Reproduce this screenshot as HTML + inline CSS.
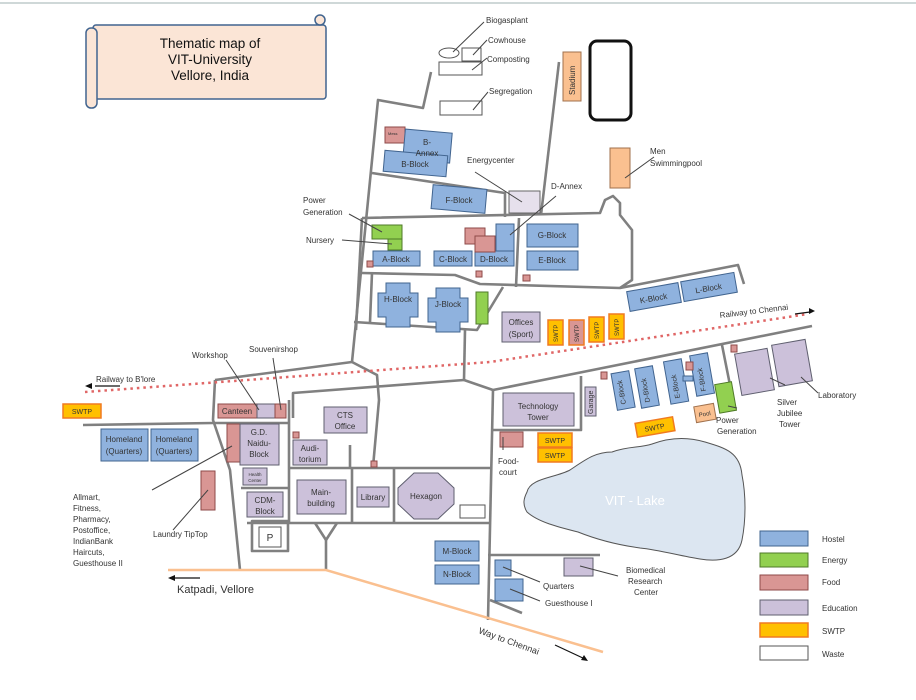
<!DOCTYPE html>
<html><head><meta charset="utf-8"><style>
body{margin:0;background:#fff;width:916px;height:700px;overflow:hidden}
svg{display:block;font-family:"Liberation Sans",sans-serif}
text{fill:#333;font-size:8px}
.r{fill:none;stroke:#808080;stroke-width:2.6;stroke-linejoin:round}
.h{fill:#8fb2de;stroke:#41648f;stroke-width:1}
.e{fill:#92d050;stroke:#4f7a28;stroke-width:1}
.f{fill:#d99694;stroke:#8e4a48;stroke-width:1}
.d{fill:#ccc1da;stroke:#5f5f6f;stroke-width:1}
.s{fill:#ffc000;stroke:#f07a20;stroke-width:1.5}
.w{fill:#fff;stroke:#555;stroke-width:1}
.l{stroke:#444;stroke-width:1;fill:none}
</style></head><body>
<svg width="916" height="700" viewBox="0 0 916 700">
<line x1="0" y1="3" x2="916" y2="3" stroke="#cfd8d8" stroke-width="2"/>
<g>
<rect x="93" y="25" width="233" height="74" rx="3" fill="#fbe5d6" stroke="#41648f" stroke-width="1.5"/>
<rect x="86" y="28" width="11" height="80" rx="5" fill="#fbe5d6" stroke="#41648f" stroke-width="1.5"/>
<circle cx="320" cy="20" r="5" fill="#fbe5d6" stroke="#41648f" stroke-width="1.5"/>
<text x="210" y="48" text-anchor="middle" style="font-size:13.5px;fill:#111">Thematic map of</text>
<text x="210" y="64" text-anchor="middle" style="font-size:13.5px;fill:#111">VIT-University</text>
<text x="210" y="80" text-anchor="middle" style="font-size:13.5px;fill:#111">Vellore, India</text>
</g>
<g>
<polyline class="r" points="431,72 423,108 378,100 352,362"/>
<polyline class="r" points="559,62 541,215"/>
<polyline class="r" points="372,173 505,193 505,217"/>
<polyline class="r" points="362,218 600,213 605,200 613,196 620,203 620,215 632,230 632,280 620,288"/>
<polyline class="r" points="519,218 516,287"/>
<polyline class="r" points="362,218 356,330"/>
<polyline class="r" points="372,273 370,322"/>
<polyline class="r" points="362,273 455,275 480,284 620,288 738,265 744,284"/>
<polyline class="r" points="354,322 477,330 503,287"/>
<polyline class="r" points="465,330 464,380"/>
<polyline class="r" points="215,380 352,362 377,375 379,400 373,467"/>
<polyline class="r" points="215,380 213,420 230,470 240,570"/>
<polyline class="r" points="293,418 293,393 464,380 493,390 812,326"/>
<polyline class="r" points="493,390 488,620"/>
<polyline class="r" points="581,376 581,430 492,430"/>
<polyline class="r" points="290,468 490,468"/>
<polyline class="r" points="247,523 490,523"/>
<polyline class="r" points="289,400 289,523"/>
<polyline class="r" points="352,468 352,523"/>
<polyline class="r" points="394,468 394,523"/>
<polyline class="r" points="350,445 350,468"/>
<polyline class="r" points="213,423 290,423"/>
<polyline class="r" points="241,488 288,488"/>
<polyline class="r" points="83,425 213,423"/>
<rect class="r" x="252" y="521" width="36" height="30"/>
<polyline class="r" points="315,523 326,540 337,523"/>
<polyline class="r" points="326,540 326,570"/>
<polyline class="r" points="488,555 600,555"/>
<polyline class="r" points="490,600 522,613"/>
<polyline class="r" points="722,345 735,410"/>
<polyline points="168,570 326,570 603,652" fill="none" stroke="#fac090" stroke-width="2.5"/>
</g>
<polyline points="85,392 490,362 808,314" fill="none" stroke="#e06666" stroke-width="2.5" stroke-dasharray="2.5,4"/>
<g>
<ellipse class="w" cx="449" cy="53" rx="10" ry="5"/>
<rect class="w" x="462" y="48" width="19" height="13"/>
<rect class="w" x="439" y="62" width="43" height="13"/>
<rect class="w" x="440" y="101" width="42" height="14"/>
<rect class="w" x="460" y="505" width="25" height="13"/>
<rect class="w" x="259" y="527" width="22" height="20"/>
<text x="270" y="541" text-anchor="middle" style="font-size:10px">P</text>
</g>
<rect x="563" y="52" width="18" height="49" fill="#fac090" stroke="#a0714d"/>
<text transform="translate(575,95) rotate(-90)">Stadium</text>
<rect x="590" y="41" width="41" height="79" rx="7" fill="#fff" stroke="#111" stroke-width="3"/>
<rect x="610" y="148" width="20" height="40" fill="#fac090" stroke="#a0714d"/>
<rect x="509" y="191" width="31" height="22" fill="#e6e0ec" stroke="#666"/>
<g>
<rect class="f" x="385" y="127" width="20" height="16"/>
<rect class="h" x="404" y="131" width="47" height="30" transform="rotate(5 427 146)"/>
<rect class="h" x="384" y="153" width="63" height="21" transform="rotate(5 415 163)"/>
<rect class="h" x="432" y="187" width="54" height="24" transform="rotate(5 459 199)"/>
<rect class="e" x="372" y="225" width="30" height="14"/>
<rect class="e" x="388" y="239" width="14" height="11"/>
<rect class="h" x="373" y="251" width="47" height="15"/>
<rect class="f" x="367" y="261" width="6" height="6"/>
<rect class="h" x="434" y="251" width="38" height="15"/>
<rect class="h" x="475" y="251" width="39" height="15"/>
<rect class="h" x="496" y="224" width="18" height="27"/>
<rect class="f" x="465" y="228" width="20" height="16"/>
<rect class="f" x="475" y="236" width="20" height="16"/>
<rect class="h" x="527" y="224" width="51" height="23"/>
<rect class="h" x="527" y="251" width="51" height="19"/>
<rect class="f" x="523" y="275" width="7" height="6"/>
<rect class="f" x="476" y="271" width="6" height="6"/>
<path class="h" d="M386,283h24v10h8v24h-8v10h-24v-10h-8v-24h8z"/>
<path class="h" d="M436,288h24v10h8v24h-8v10h-24v-10h-8v-24h8z"/>
<rect class="e" x="476" y="292" width="12" height="32"/>
<rect class="d" x="502" y="312" width="38" height="30"/>
<rect class="s" x="548" y="320" width="15" height="25"/>
<rect class="f" x="569" y="320" width="15" height="25" style="stroke:#f07a20;stroke-width:1.5"/>
<rect class="s" x="589" y="317" width="15" height="25"/>
<rect class="s" x="609" y="314" width="15" height="25"/>
<rect class="h" x="628" y="287" width="52" height="20" transform="rotate(-10 654 297)"/>
<rect class="h" x="682" y="277" width="54" height="20" transform="rotate(-10 709 287)"/>
<rect class="s" x="63" y="404" width="38" height="14"/>
<rect class="h" x="101" y="429" width="47" height="32"/>
<rect class="h" x="151" y="429" width="47" height="32"/>
<rect class="f" x="218" y="404" width="39" height="14"/>
<rect class="d" x="257" y="404" width="18" height="14"/>
<rect class="f" x="275" y="404" width="11" height="14"/>
<rect class="f" x="227" y="424" width="13" height="38"/>
<rect class="d" x="240" y="424" width="39" height="41"/>
<rect class="d" x="243" y="468" width="24" height="17"/>
<rect class="f" x="201" y="471" width="14" height="39"/>
<rect class="d" x="247" y="492" width="36" height="25"/>
<rect class="d" x="293" y="440" width="34" height="25"/>
<rect class="f" x="293" y="432" width="6" height="6"/>
<rect class="d" x="324" y="407" width="43" height="26"/>
<rect class="d" x="297" y="480" width="49" height="34"/>
<rect class="d" x="357" y="487" width="32" height="20"/>
<polygon class="d" points="414,473 438,473 454,488 454,504 438,519 414,519 398,504 398,488"/>
<rect class="f" x="371" y="461" width="6" height="6"/>
<rect class="h" x="435" y="541" width="44" height="20"/>
<rect class="h" x="435" y="565" width="44" height="19"/>
<rect class="h" x="495" y="560" width="16" height="16"/>
<rect class="h" x="495" y="579" width="28" height="22"/>
<rect class="d" x="564" y="558" width="29" height="18"/>
<rect class="f" x="500" y="432" width="23" height="15"/>
<rect class="d" x="503" y="393" width="71" height="33"/>
<rect class="d" x="585" y="387" width="11" height="29"/>
<rect class="s" x="538" y="433" width="34" height="14"/>
<rect class="s" x="538" y="448" width="34" height="14"/>
<rect class="s" x="636" y="420" width="38" height="14" transform="rotate(-10 655 427)"/>
<rect class="f" x="601" y="372" width="6" height="7"/>
<rect class="h" x="614" y="372" width="18" height="37" transform="rotate(-10 623 390)"/>
<rect class="h" x="638" y="367" width="18" height="40" transform="rotate(-10 647 387)"/>
<rect class="h" x="667" y="360" width="18" height="43" transform="rotate(-10 676 381)"/>
<rect class="h" x="693" y="354" width="18" height="41" transform="rotate(-10 702 374)"/>
<rect class="h" x="683" y="376" width="10" height="5"/>
<rect class="f" x="686" y="362" width="7" height="8"/>
<rect x="695" y="405" width="20" height="16" fill="#fac090" stroke="#a0714d" transform="rotate(-10 705 413)"/>
<rect class="e" x="717" y="383" width="17" height="29" transform="rotate(-10 725 397)"/>
<rect class="f" x="731" y="345" width="6" height="7"/>
<rect class="d" x="738" y="351" width="33" height="42" transform="rotate(-10 754 372)"/>
<rect class="d" x="775" y="342" width="34" height="42" transform="rotate(-10 792 363)"/>
</g>
<path d="M527,492 C530,478 555,478 570,470 C585,460 595,452 612,452 C628,446 640,448 652,444 C668,438 685,436 705,442 C725,448 740,452 742,475 C746,495 746,520 742,540 C738,560 718,562 700,559 C680,556 660,550 640,548 C618,545 598,540 578,532 C558,527 538,522 527,512 C522,504 524,498 527,492 Z" fill="#dce6f1" stroke="#555" stroke-width="1"/>
<text x="635" y="505" text-anchor="middle" style="font-size:13px;fill:#fff">VIT - Lake</text>
<g>
<path class="l" d="M484,22 L453,52 M487,40 L473,55 M487,58 L472,70 M488,92 L473,110 M654,157 L625,178 M475,172 L522,202 M556,196 L510,235 M349,214 L382,232 M342,240 L392,244 M226,360 L259,410 M273,358 L281,410 M152,490 L232,446 M173,530 L208,490 M503,450 L503,437 M540,582 L503,567 M540,601 L510,589 M618,576 L580,566 M737,408 L728,406 M785,385 L770,378 M818,393 L801,377"/>
<path d="M95,386 H120 M170,578 H200 M810,312 L795,314 M555,645 L585,659" stroke="#111" stroke-width="1.2" fill="none"/>
<path d="M85,386 l7,-3 v6 z M168,578 l7,-3 v6 z M815,311 l-6,-3 v6 z M588,661 l-7,-1 l3,-5 z" fill="#111"/>
</g>
<g>
<text x="486" y="23">Biogasplant</text>
<text x="488" y="43">Cowhouse</text>
<text x="487" y="62">Composting</text>
<text x="489" y="94">Segregation</text>
<text x="467" y="163">Energycenter</text>
<text x="551" y="189">D-Annex</text>
<text x="650" y="154">Men</text>
<text x="650" y="166">Swimmingpool</text>
<text x="303" y="203">Power</text>
<text x="303" y="215">Generation</text>
<text x="306" y="243">Nursery</text>
<text x="192" y="358">Workshop</text>
<text x="249" y="352">Souvenirshop</text>
<text x="96" y="382">Railway to B'lore</text>
<text transform="translate(720,318) rotate(-7)">Railway to Chennai</text>
<text x="73" y="500">Allmart,</text>
<text x="73" y="511">Fitness,</text>
<text x="73" y="522">Pharmacy,</text>
<text x="73" y="533">Postoffice,</text>
<text x="73" y="544">IndianBank</text>
<text x="73" y="555">Haircuts,</text>
<text x="73" y="566">Guesthouse II</text>
<text x="153" y="537">Laundry TipTop</text>
<text x="177" y="593" style="font-size:11px">Katpadi, Vellore</text>
<text transform="translate(478,633) rotate(20)" style="font-size:9px">Way to Chennai</text>
<text x="498" y="464">Food-</text>
<text x="499" y="475">court</text>
<text x="543" y="589">Quarters</text>
<text x="545" y="606">Guesthouse I</text>
<text x="626" y="573">Biomedical</text>
<text x="628" y="584">Research</text>
<text x="634" y="595">Center</text>
<text x="716" y="423">Power</text>
<text x="717" y="434">Generation</text>
<text x="777" y="405">Silver</text>
<text x="777" y="416">Jubilee</text>
<text x="779" y="427">Tower</text>
<text x="818" y="398">Laboratory</text>
</g>
<g style="font-size:8px">
<text x="388" y="135" style="font-size:4px">Mess</text>
<text x="427" y="145" text-anchor="middle">B-</text>
<text x="427" y="156" text-anchor="middle">Annex</text>
<text x="415" y="167" text-anchor="middle">B-Block</text>
<text x="459" y="203" text-anchor="middle">F-Block</text>
<text x="396" y="262" text-anchor="middle">A-Block</text>
<text x="453" y="262" text-anchor="middle">C-Block</text>
<text x="494" y="262" text-anchor="middle">D-Block</text>
<text x="552" y="238" text-anchor="middle">G-Block</text>
<text x="552" y="263" text-anchor="middle">E-Block</text>
<text x="398" y="302" text-anchor="middle">H-Block</text>
<text x="448" y="307" text-anchor="middle">J-Block</text>
<text x="521" y="325" text-anchor="middle">Offices</text>
<text x="521" y="337" text-anchor="middle">(Sport)</text>
<text transform="translate(558,342) rotate(-90)" style="font-size:6px">SWTP</text>
<text transform="translate(579,342) rotate(-90)" style="font-size:6px">SWTP</text>
<text transform="translate(599,339) rotate(-90)" style="font-size:6px">SWTP</text>
<text transform="translate(619,336) rotate(-90)" style="font-size:6px">SWTP</text>
<text transform="translate(654,301) rotate(-10)" text-anchor="middle">K-Block</text>
<text transform="translate(709,291) rotate(-10)" text-anchor="middle">L-Block</text>
<text x="82" y="414" text-anchor="middle" style="font-size:7px">SWTP</text>
<text x="124" y="442" text-anchor="middle">Homeland</text>
<text x="124" y="454" text-anchor="middle">(Quarters)</text>
<text x="174" y="442" text-anchor="middle">Homeland</text>
<text x="174" y="454" text-anchor="middle">(Quarters)</text>
<text x="237" y="414" text-anchor="middle">Canteen</text>
<text x="259" y="435" text-anchor="middle">G.D.</text>
<text x="259" y="446" text-anchor="middle">Naidu-</text>
<text x="259" y="457" text-anchor="middle">Block</text>
<text x="255" y="476" text-anchor="middle" style="font-size:4.5px">Health</text>
<text x="255" y="482" text-anchor="middle" style="font-size:4.5px">Center</text>
<text x="265" y="503" text-anchor="middle">CDM-</text>
<text x="265" y="514" text-anchor="middle">Block</text>
<text x="310" y="451" text-anchor="middle">Audi-</text>
<text x="310" y="462" text-anchor="middle">torium</text>
<text x="345" y="418" text-anchor="middle">CTS</text>
<text x="345" y="429" text-anchor="middle">Office</text>
<text x="321" y="495" text-anchor="middle">Main-</text>
<text x="321" y="506" text-anchor="middle">building</text>
<text x="373" y="500" text-anchor="middle">Library</text>
<text x="426" y="499" text-anchor="middle">Hexagon</text>
<text x="457" y="554" text-anchor="middle">M-Block</text>
<text x="457" y="577" text-anchor="middle">N-Block</text>
<text x="538" y="409" text-anchor="middle">Technology</text>
<text x="538" y="420" text-anchor="middle">Tower</text>
<text transform="translate(593,414) rotate(-90)" style="font-size:7px">Garage</text>
<text x="555" y="443" text-anchor="middle" style="font-size:7px">SWTP</text>
<text x="555" y="458" text-anchor="middle" style="font-size:7px">SWTP</text>
<text transform="translate(655,430) rotate(-10)" text-anchor="middle" style="font-size:7px">SWTP</text>
<text transform="translate(626,404) rotate(-100)" style="font-size:7px">C-Block</text>
<text transform="translate(650,402) rotate(-100)" style="font-size:7px">D-Block</text>
<text transform="translate(680,398) rotate(-100)" style="font-size:7px">E-Block</text>
<text transform="translate(706,391) rotate(-100)" style="font-size:7px">F-Block</text>
<text transform="translate(705,416) rotate(-10)" text-anchor="middle" style="font-size:6px">Pool</text>
</g>
<g>
<rect class="h" x="760" y="531" width="48" height="15"/>
<text x="822" y="542">Hostel</text>
<rect class="e" x="760" y="553" width="48" height="14"/>
<text x="822" y="563">Energy</text>
<rect class="f" x="760" y="575" width="48" height="15"/>
<text x="822" y="585">Food</text>
<rect class="d" x="760" y="600" width="48" height="15"/>
<text x="822" y="611">Education</text>
<rect class="s" x="760" y="623" width="48" height="14"/>
<text x="822" y="634">SWTP</text>
<rect class="w" x="760" y="646" width="48" height="14"/>
<text x="822" y="657">Waste</text>
</g>
</svg>
</body></html>
